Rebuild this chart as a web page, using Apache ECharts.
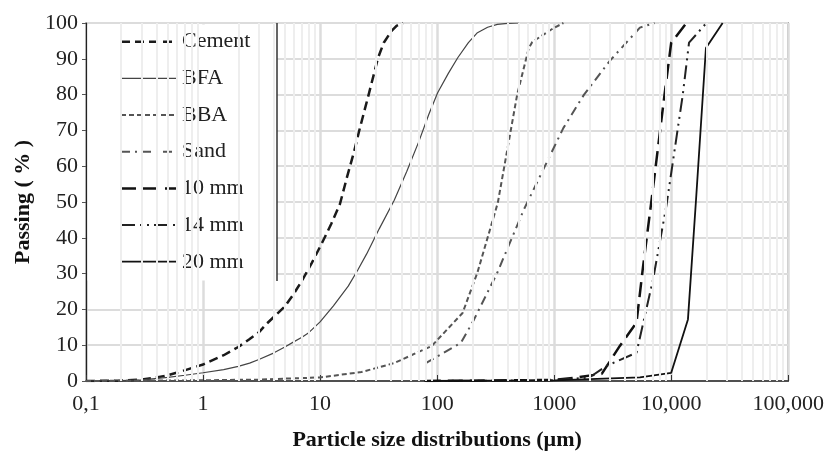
<!DOCTYPE html>
<html>
<head>
<meta charset="utf-8">
<script src="https://cdn.jsdelivr.net/npm/echarts@6/dist/echarts.min.js"></script>
<style>
html,body{margin:0;padding:0;background:#fff;}
#chart{width:827px;height:456px;}
</style>
</head>
<body>
<div id="chart"></div>
<script>
// ---- data (x in µm, y in % passing) ----
var cement = [[0.1,0],[0.2,0.1],[0.3,0.4],[0.4,1],[0.5,1.6],[0.67,2.8],[0.8,3.6],[1,4.6],[1.5,7.2],[2,9.5],[2.47,11.6],[3,13.6],[3.5,16],[4,17.8],[5,20.8],[6,24.5],[7,28],[8.5,33],[10.4,38.6],[12.5,44],[14.8,49.5],[17,57],[19.5,64],[21.9,70.7],[26,80],[31.3,90.3],[35,94.5],[40.6,97.7],[45,99.2],[51,100]];
var bfa = [[0.1,0],[0.2,0.1],[0.3,0.3],[0.5,1],[0.7,1.6],[1,2.3],[1.5,3.2],[2,4.1],[2.5,5],[3,6],[4,7.8],[5,9.5],[6,11],[7,12.2],[8,13.5],[10,16.5],[13,21],[17.4,26.5],[21,31],[25,35.5],[32,42.5],[43,50.5],[55,58.5],[70,67],[85,74.5],[101,80.5],[125,86],[150,90.3],[185,94.5],[221,97.3],[270,98.8],[327,99.6],[400,99.9],[500,100]];
var bba = [[0.1,0],[1,0.2],[3,0.4],[10,1],[22.6,2.5],[43,5],[90,9.8],[165,19],[221,30.3],[330,49.8],[483,80],[607,93],[650,94.7],[990,98.6],[1200,100]];
var sand = [[80,5],[160,10.7],[207,17.2],[327,30.3],[551,47.9],[1200,70.7],[1800,80],[3000,89.5],[5400,98.7],[7200,100]];
var mm10 = [[80,0],[1000,0.3],[1560,1],[2550,2],[3640,9.8],[5050,16.3],[5750,32],[6760,50],[8770,80],[10000,94.5],[13500,100]];
var mm14 = [[80,0],[1000,0.2],[2000,1],[2800,4.2],[5050,7.9],[7000,28.4],[9100,49],[12560,80],[14200,94.5],[20000,100]];
var mm20 = [[78,0],[1000,0.2],[5400,1],[10000,2.3],[13900,17.2],[16300,50.7],[19800,93],[27500,100]];

var seriesNames = ['Cement','BFA','BBA','Sand','10 mm','14 mm','20 mm'];
var seriesData = [cement, bfa, bba, sand, mm10, mm14, mm20];
var xMin = 0.1, xMax = 100000;

var FONT = 'Liberation Serif';

// line styles per series (color, width, dash)
var styles = [
  {color: '#1a1a1a', width: 2.5, dash: [9,5]},
  {color: '#444', width: 1.2, dash: null},
  {color: '#555', width: 2, dash: [5,3]},
  {color: '#555', width: 2, dash: [9,5,2,5]},
  {color: '#111', width: 2.5, dash: [15,7]},
  {color: '#222', width: 2, dash: [14,5,2,5,2,5]},
  {color: '#111', width: 1.8, dash: null}
];

// minor log gridlines (2..9 per decade), derived from axis range
var minorLines = [];
for (var d = xMin; d < xMax * 0.99; d *= 10) {
  for (var k = 2; k <= 9; k++) minorLines.push({xAxis: +(d * k).toPrecision(6)});
}

function xLabel(v) {
  if (v < 1) return '0,1';
  var r = Math.round(v);
  if (r >= 10000) return r.toLocaleString('en-US');
  return String(r);
}

var series = [{
  name: '_grid', type: 'line', data: [], symbol: 'none', z: 1, silent: true,
  markLine: {silent: true, symbol: 'none', label: {show: false}, animation: false,
    lineStyle: {color: '#eeeeee', width: 2, type: 'solid'}, data: minorLines}
}];
seriesNames.forEach(function (n, i) {
  var s = styles[i];
  series.push({
    name: n, type: 'line', data: seriesData[i], symbol: 'none', showSymbol: false, smooth: false,
    lineStyle: {color: s.color, width: s.width, type: s.dash || 'solid'},
    itemStyle: {color: s.color}, z: 2, animation: false
  });
});

// legend box (white background, right border) + entries
var graphics = [
  {type: 'rect', shape: {x: 87.5, y: 24.5, width: 189.5, height: 256}, style: {fill: '#fff'}, z: 3, silent: true},
  {type: 'line', shape: {x1: 277, y1: 23, x2: 277, y2: 281}, style: {stroke: '#333', lineWidth: 1.5}, z: 4, silent: true}
];
seriesNames.forEach(function (n, i) {
  var s = styles[i];
  var yy = 41.7 + i * 36.67;
  graphics.push({type: 'line', z: 5, silent: true,
    shape: {x1: 121, y1: yy, x2: 176, y2: yy},
    style: {stroke: s.color, lineWidth: s.width, lineDash: s.dash || null}});
  graphics.push({type: 'text', z: 5, silent: true, x: 182, y: yy,
    style: {text: n, font: '22px "Liberation Serif"', fill: '#222', verticalAlign: 'middle', align: 'left'}});
});

var chart = echarts.init(document.getElementById('chart'), null, {renderer: 'canvas'});
chart.setOption({
  animation: false,
  backgroundColor: '#fff',
  grid: {left: 86, right: 34, top: 23, bottom: 74, show: true, borderColor: '#222', borderWidth: 1.2, backgroundColor: 'transparent'},
  xAxis: {
    type: 'log', logBase: 10, min: xMin, max: xMax,
    name: 'Particle size distributions (µm)', nameLocation: 'middle', nameGap: 48,
    nameTextStyle: {fontFamily: FONT, fontWeight: 'bold', fontSize: 22, color: '#111'},
    axisLine: {show: true, lineStyle: {color: '#222', width: 1.5}},
    axisTick: {show: true, inside: true, length: 6, lineStyle: {color: '#333'}},
    axisLabel: {formatter: xLabel, fontFamily: FONT, fontSize: 22, color: '#222', margin: 12},
    splitLine: {show: true, lineStyle: {color: '#dcdcdc', width: 2.5}}
  },
  yAxis: {
    type: 'value', min: 0, max: 100, interval: 10,
    name: 'Passing ( % )', nameLocation: 'middle', nameGap: 52, nameRotate: 90,
    nameTextStyle: {fontFamily: FONT, fontWeight: 'bold', fontSize: 22, color: '#111'},
    axisLine: {show: true, lineStyle: {color: '#222', width: 1.2}},
    axisTick: {show: true, inside: false, length: 4, lineStyle: {color: '#555'}},
    axisLabel: {fontFamily: FONT, fontSize: 22, color: '#222', margin: 8},
    splitLine: {show: true, lineStyle: {color: '#dcdcdc', width: 2}}
  },
  graphic: graphics,
  series: series
});
</script>
</body>
</html>
